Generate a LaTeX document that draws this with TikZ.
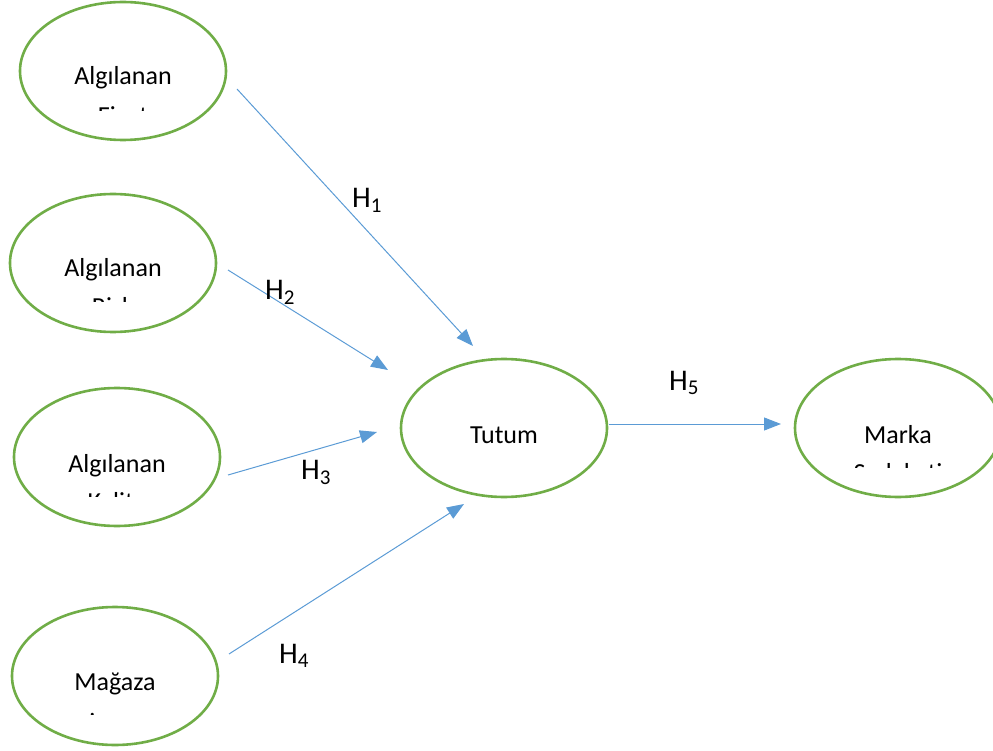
\documentclass[tikz,border=0pt]{standalone}
\usepackage{fontspec}
\setmainfont{Carlito}
\usetikzlibrary{arrows.meta,shapes.geometric}
\definecolor{ovalgreen}{HTML}{70AD47}
\definecolor{linkblue}{HTML}{5B9BD5}

\begin{document}
\begin{tikzpicture}[x=1pt,y=-1pt]

\tikzstyle{construct} = [ellipse, draw=ovalgreen, line width=2.6pt, minimum width=206pt, minimum height=138pt, inner sep=0pt]
\tikzstyle{word} = [font=\fontsize{26}{30}\selectfont, inner sep=0pt, anchor=base]
\tikzstyle{hyp} = [font=\fontsize{30}{34}\selectfont, inner sep=0pt, anchor=base west]
\tikzstyle{link} = [draw=linkblue, line width=1pt, -{Triangle[length=17pt,width=13pt]}]

\useasboundingbox (0,0) rectangle (993,751);

\node[construct] (fiyat) at (123,71) {};
\node[construct] (risk) at (113,263) {};
\node[construct] (kalite) at (117,457) {};
\node[construct] (imaj) at (115,676) {};
\node[construct] (tutum) at (504,428) {};
\node[construct] (sadakat) at (898,428) {};

\node[word] (fiyat-a) at (123,85) {Algılanan};
\node[word] (risk-a) at (113,277) {Algılanan};
\node[word] (kalite-a) at (117,472) {Algılanan};
\node[word] (imaj-a) at (115,690) {Mağaza};
\node[word] (tutum-a) at (504,443) {Tutum};
\node[word] (sadakat-a) at (898,443) {Marka};

% second lines, cut off like in the source
\begin{scope}
\clip (23,80) rectangle (223,111);
\node[word] (fiyat-b) at (123,125) {Fiyat};
\end{scope}
\begin{scope}
\clip (13,272) rectangle (213,302);
\node[word] (risk-b) at (113,316) {Risk};
\end{scope}
\begin{scope}
\clip (17,466) rectangle (217,496);
\node[word] (kalite-b) at (117,510) {Kalite};
\end{scope}
\begin{scope}
\clip (15,685) rectangle (215,714);
\node[word] (imaj-b) at (115,734) {İmajı};
\end{scope}
\begin{scope}
\clip (798,437) rectangle (993,467);
\node[word] (sadakat-b) at (898,481) {Sadakati};
\end{scope}

\coordinate (fiyat-out) at (237,89);
\coordinate (risk-out) at (228,270);
\coordinate (kalite-out) at (228,475);
\coordinate (imaj-out) at (229,654);
\coordinate (tutum-out) at (609,424);
\coordinate (tutum-in1) at (473,346);
\coordinate (tutum-in2) at (388,370);
\coordinate (tutum-in3) at (377,432);
\coordinate (tutum-in4) at (464,504);
\coordinate (sadakat-in) at (781,424);

\draw[link] (fiyat-out) -- (tutum-in1);
\draw[link] (risk-out) -- (tutum-in2);
\draw[link] (kalite-out) -- (tutum-in3);
\draw[link] (imaj-out) -- (tutum-in4);
\draw[link] (tutum-out) -- (sadakat-in);

\node[hyp] (h1) at (352,208) {H\textsubscript{1}};
\node[hyp] (h2) at (265,299) {H\textsubscript{2}};
\node[hyp] (h3) at (301,479) {H\textsubscript{3}};
\node[hyp] (h4) at (279,663) {H\textsubscript{4}};
\node[hyp] (h5) at (669,390) {H\textsubscript{5}};

\end{tikzpicture}
\end{document}
